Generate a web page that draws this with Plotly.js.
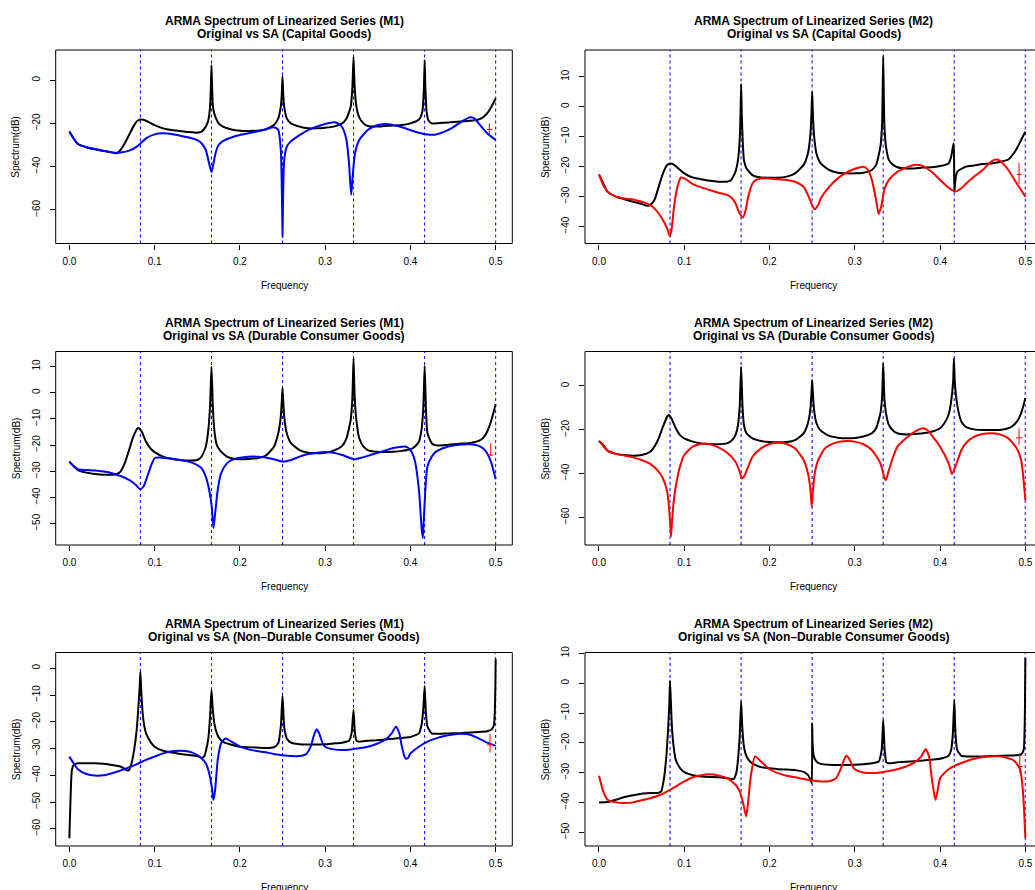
<!DOCTYPE html>
<html><head><meta charset="utf-8">
<script src="https://cdn.plot.ly/plotly-3.0.1.min.js"></script>
<style>html,body{margin:0;padding:0;background:#fff}#chart{width:1035px;height:890px}</style>
</head><body><div id="chart"></div>
<script>
// ---------------- DATA ----------------
const seasonalFreqs = [0.083333, 0.166667, 0.25, 0.333333, 0.416667, 0.5];
const xTickVals = [0, 0.1, 0.2, 0.3, 0.4, 0.5];

const p1YTicks = [-60, -40, -20, 0];
const p2YTicks = [-40, -30, -20, -10, 0, 10];
const p3YTicks = [-50, -40, -30, -20, -10, 0, 10];
const p4YTicks = [-60, -40, -20, 0];
const p5YTicks = [-60, -50, -40, -30, -20, -10, 0];
const p6YTicks = [-50, -40, -30, -20, -10, 0, 10];

const titleLine1 = ["ARMA Spectrum of Linearized Series (M1)", "ARMA Spectrum of Linearized Series (M2)",
  "ARMA Spectrum of Linearized Series (M1)", "ARMA Spectrum of Linearized Series (M2)",
  "ARMA Spectrum of Linearized Series (M1)", "ARMA Spectrum of Linearized Series (M2)"];
const titleLine2 = ["Original vs SA (Capital Goods)", "Original vs SA (Capital Goods)",
  "Original vs SA (Durable Consumer Goods)", "Original vs SA (Durable Consumer Goods)",
  "Original vs SA (Non\u2013Durable Consumer Goods)", "Original vs SA (Non\u2013Durable Consumer Goods)"];

// [frequency, dB]
const p1Orig = [[0,-23.8],[0.005,-27],[0.01,-29.5],[0.02,-31],[0.03,-32],[0.04,-32.8],[0.05,-33.4],[0.056,-33.8],[0.06,-32.3],[0.065,-29.2],[0.07,-25.4],[0.075,-21.5],[0.08,-18.8],[0.085,-18.2],[0.09,-18.8],[0.1,-20.8],[0.11,-22.3],[0.12,-23.1],[0.13,-23.5],[0.14,-24],[0.15,-24.3],[0.155,-23.8],[0.16,-21.5],[0.163,-18.5],[0.165,-12.3],[0.1659,-4],[0.1667,6.9],[0.1675,-4],[0.1684,-12.3],[0.17,-15.5],[0.172,-17.7],[0.175,-20],[0.18,-21.5],[0.19,-22.8],[0.2,-23.4],[0.21,-23.5],[0.22,-23.4],[0.23,-22.8],[0.24,-20.8],[0.245,-17.7],[0.248,-12.3],[0.2492,-6],[0.25,1.8],[0.2508,-6],[0.252,-12.3],[0.255,-17.7],[0.26,-20],[0.27,-21.5],[0.28,-22.3],[0.29,-22.3],[0.3,-22],[0.31,-21.5],[0.32,-20],[0.325,-17.7],[0.33,-12.3],[0.332,-3],[0.3333,10.8],[0.3346,-3],[0.3367,-12.3],[0.34,-17.2],[0.345,-20],[0.35,-21.2],[0.36,-21.5],[0.37,-21.2],[0.38,-21],[0.39,-20.8],[0.4,-20],[0.41,-18.2],[0.414,-14.6],[0.4158,-4],[0.4167,9.2],[0.4176,-4],[0.419,-14.6],[0.421,-18.5],[0.425,-20],[0.43,-20],[0.44,-19.7],[0.45,-19.4],[0.46,-19.1],[0.47,-18.8],[0.48,-18.2],[0.485,-17.2],[0.49,-15.4],[0.495,-12.3],[0.5,-8.5]];
const p1SA = [[0,-23.8],[0.005,-27],[0.01,-29.5],[0.02,-31],[0.03,-31.8],[0.04,-32.6],[0.05,-33.4],[0.06,-33.5],[0.07,-32.6],[0.08,-30.5],[0.09,-26.9],[0.1,-25.1],[0.11,-24.6],[0.12,-24.9],[0.13,-25.7],[0.14,-26.5],[0.15,-27.7],[0.155,-29.2],[0.16,-32.3],[0.163,-36.9],[0.1667,-42.5],[0.169,-38.5],[0.172,-33],[0.175,-30],[0.18,-28.2],[0.19,-26.5],[0.2,-25.4],[0.21,-24.6],[0.22,-23.8],[0.23,-22.8],[0.24,-21.8],[0.245,-23],[0.248,-32.3],[0.2495,-58],[0.25,-72.3],[0.2505,-58],[0.252,-36.9],[0.255,-30.8],[0.26,-28.2],[0.27,-25.4],[0.28,-23.1],[0.29,-21.5],[0.3,-20.3],[0.31,-19.5],[0.315,-20],[0.32,-21.8],[0.325,-27.7],[0.328,-38.5],[0.3305,-53],[0.332,-46],[0.335,-33.8],[0.34,-27.7],[0.35,-23.1],[0.36,-21],[0.37,-20.3],[0.38,-20.8],[0.39,-21.8],[0.4,-23.1],[0.41,-24.3],[0.42,-25.1],[0.43,-25.1],[0.44,-23.8],[0.45,-21.8],[0.46,-19.2],[0.47,-17.2],[0.475,-17.7],[0.48,-20],[0.49,-24.6],[0.5,-27.7]];

const p2Orig = [[0,-22.6],[0.005,-25.6],[0.01,-28.3],[0.02,-30],[0.03,-30.9],[0.04,-31.7],[0.05,-32.4],[0.056,-33],[0.06,-32.8],[0.065,-31.1],[0.07,-26.7],[0.075,-22.2],[0.08,-19.4],[0.085,-18.9],[0.09,-19.8],[0.1,-22.2],[0.11,-23.6],[0.12,-24.2],[0.13,-24.7],[0.14,-25],[0.15,-25],[0.155,-24.4],[0.16,-21.7],[0.163,-17.8],[0.165,-11.1],[0.1659,-3],[0.1667,7.6],[0.1675,-3],[0.1685,-11],[0.17,-17.8],[0.173,-20.6],[0.18,-22.8],[0.19,-23.6],[0.2,-23.7],[0.21,-23.7],[0.22,-23.3],[0.23,-22.2],[0.24,-19.4],[0.245,-15.6],[0.248,-8.9],[0.2492,-2],[0.25,5],[0.2508,-2],[0.252,-8.9],[0.255,-15.6],[0.26,-18.9],[0.27,-21.1],[0.28,-22],[0.29,-22.2],[0.3,-22.2],[0.31,-22],[0.32,-21.1],[0.325,-19.4],[0.33,-13.3],[0.332,-5.6],[0.3333,16.7],[0.3346,-5.6],[0.3366,-13.3],[0.34,-17.8],[0.345,-19.4],[0.35,-20.2],[0.36,-20.6],[0.37,-20.6],[0.38,-20.3],[0.39,-20.2],[0.4,-19.8],[0.41,-18.9],[0.413,-16.7],[0.4158,-12.2],[0.4164,-17.8],[0.4168,-28.3],[0.418,-24.4],[0.42,-21.7],[0.43,-20],[0.44,-19.6],[0.45,-19.1],[0.46,-18.9],[0.47,-18.4],[0.48,-17.6],[0.485,-16.1],[0.49,-13.9],[0.495,-11.1],[0.5,-8.3]];
const p2SA = [[0,-22.6],[0.005,-26.1],[0.01,-28.3],[0.02,-30],[0.03,-30.6],[0.04,-30.9],[0.05,-31.7],[0.06,-32.8],[0.065,-33.9],[0.07,-35.6],[0.075,-37.8],[0.08,-40.6],[0.083,-43.1],[0.085,-41.1],[0.088,-33.3],[0.092,-26.7],[0.096,-23.6],[0.1,-23.9],[0.11,-25.8],[0.12,-26.9],[0.13,-27.8],[0.14,-28.7],[0.15,-29.4],[0.155,-30.2],[0.16,-32.2],[0.165,-35.6],[0.169,-36.9],[0.172,-34.4],[0.175,-30],[0.18,-25.6],[0.185,-24.2],[0.19,-23.9],[0.2,-23.9],[0.21,-24.2],[0.22,-24.4],[0.23,-25],[0.24,-26.7],[0.245,-29.4],[0.25,-32.8],[0.253,-34.2],[0.257,-32.8],[0.26,-30.6],[0.27,-26.7],[0.28,-23.9],[0.29,-22],[0.3,-20.7],[0.31,-20],[0.315,-20.9],[0.32,-24.4],[0.325,-31.1],[0.328,-35.8],[0.331,-33.3],[0.335,-27.2],[0.34,-24.4],[0.35,-21.7],[0.36,-20.3],[0.37,-19.4],[0.38,-19.8],[0.39,-21.7],[0.4,-24.4],[0.41,-27],[0.418,-28.3],[0.425,-27.2],[0.43,-25.8],[0.44,-23.3],[0.45,-21.1],[0.46,-18.3],[0.465,-17.6],[0.47,-18],[0.48,-21.1],[0.49,-25.6],[0.5,-30]];

const p3Orig = [[0,-26.3],[0.005,-28],[0.01,-29.5],[0.02,-30.5],[0.03,-31],[0.04,-31.3],[0.05,-31.3],[0.055,-31.1],[0.06,-30.1],[0.065,-26.9],[0.07,-21.9],[0.075,-16.8],[0.08,-13.6],[0.082,-13.6],[0.085,-14.9],[0.09,-18.7],[0.095,-21.2],[0.1,-22.7],[0.11,-24.4],[0.12,-25.2],[0.13,-25.7],[0.14,-25.9],[0.15,-25.7],[0.155,-24.4],[0.16,-20.6],[0.163,-14.2],[0.165,-5.3],[0.1667,9.9],[0.1683,-5.3],[0.17,-14.2],[0.173,-20],[0.178,-22.5],[0.185,-24.4],[0.19,-25],[0.2,-25.4],[0.21,-25.3],[0.22,-25],[0.23,-24.1],[0.24,-20.6],[0.245,-15.5],[0.248,-9.1],[0.2492,-3],[0.25,2],[0.2508,-3],[0.252,-9.1],[0.255,-15.5],[0.26,-19.3],[0.27,-21.9],[0.28,-22.9],[0.29,-23.1],[0.3,-22.9],[0.31,-22.1],[0.32,-20.3],[0.325,-17.4],[0.33,-10.4],[0.332,-1.5],[0.3333,13.1],[0.3346,-1.5],[0.3366,-10.4],[0.34,-17.4],[0.345,-20.6],[0.35,-21.9],[0.36,-22.5],[0.37,-22.6],[0.38,-22.5],[0.39,-22.2],[0.4,-21.6],[0.405,-20.6],[0.41,-18.7],[0.413,-14.2],[0.415,-6.6],[0.4167,10.2],[0.4183,-6.6],[0.42,-15.5],[0.425,-19.3],[0.43,-20.1],[0.44,-20],[0.45,-19.7],[0.46,-19.4],[0.47,-19.2],[0.48,-18.4],[0.485,-17.4],[0.49,-14.9],[0.495,-10.4],[0.5,-4.4]];
const p3SA = [[0,-26.3],[0.005,-28],[0.01,-29.2],[0.02,-29.5],[0.03,-29.7],[0.04,-30.1],[0.05,-30.7],[0.06,-31.8],[0.07,-33.3],[0.078,-35.2],[0.083,-36.8],[0.087,-35.8],[0.092,-31.4],[0.097,-26.9],[0.1,-25],[0.105,-24.7],[0.11,-24.8],[0.12,-25.2],[0.13,-25.7],[0.14,-26.3],[0.15,-27.6],[0.155,-28.8],[0.16,-32],[0.164,-37.1],[0.167,-43.5],[0.169,-51.7],[0.171,-46],[0.174,-37.1],[0.178,-30.7],[0.185,-26.9],[0.19,-25.7],[0.2,-24.8],[0.21,-24.4],[0.22,-24.4],[0.23,-24.7],[0.24,-25.4],[0.25,-26.3],[0.26,-25.7],[0.27,-24.4],[0.28,-23.4],[0.29,-22.9],[0.3,-22.6],[0.31,-22.9],[0.32,-23.8],[0.33,-25],[0.335,-25.4],[0.34,-25],[0.35,-24.1],[0.36,-23.1],[0.37,-22.1],[0.38,-21.1],[0.39,-20.6],[0.395,-20.6],[0.4,-21.9],[0.405,-25.7],[0.41,-37.1],[0.413,-51.1],[0.4145,-55.5],[0.4155,-49.8],[0.418,-34.6],[0.42,-28.2],[0.425,-24.4],[0.43,-22.5],[0.44,-21],[0.45,-20.2],[0.46,-19.8],[0.47,-19.7],[0.48,-20.3],[0.485,-21.2],[0.49,-23.1],[0.495,-26.9],[0.5,-33]];

const p4Orig = [[0,-25.1],[0.005,-26.9],[0.01,-29.5],[0.02,-31],[0.03,-31.5],[0.04,-31.8],[0.05,-31.5],[0.06,-30],[0.065,-27.7],[0.07,-23.9],[0.075,-18.6],[0.08,-14],[0.082,-13.2],[0.085,-14.8],[0.09,-19.3],[0.095,-22.4],[0.1,-23.9],[0.11,-25.4],[0.12,-26.2],[0.13,-26.5],[0.14,-26.6],[0.15,-26.2],[0.155,-25.1],[0.16,-22.4],[0.163,-17.8],[0.165,-9.4],[0.1667,8.8],[0.1683,-9.4],[0.17,-17.8],[0.173,-21.6],[0.18,-23.9],[0.19,-25.1],[0.2,-25.6],[0.21,-25.7],[0.22,-25.6],[0.23,-24.7],[0.24,-21.6],[0.245,-17],[0.248,-10.2],[0.2492,-3],[0.25,2.7],[0.2508,-3],[0.252,-10.2],[0.255,-17],[0.26,-20.4],[0.27,-22.8],[0.28,-23.6],[0.29,-23.9],[0.3,-23.7],[0.31,-23.1],[0.32,-21.6],[0.325,-19.3],[0.33,-12.5],[0.332,-4.9],[0.3333,10.4],[0.3346,-4.9],[0.3366,-12.5],[0.34,-17.8],[0.345,-20.4],[0.35,-21.6],[0.36,-22.1],[0.37,-21.9],[0.38,-21.6],[0.39,-20.9],[0.4,-19.3],[0.405,-17],[0.41,-13],[0.413,-7],[0.4153,2],[0.4162,12.6],[0.4172,2],[0.4195,-7],[0.422,-12.5],[0.425,-16.3],[0.43,-18.6],[0.44,-19.8],[0.45,-20.1],[0.46,-20.1],[0.47,-20.1],[0.48,-19.3],[0.485,-18.3],[0.49,-16.3],[0.495,-12.5],[0.5,-5.6]];
const p4SA = [[0,-25.1],[0.005,-27.4],[0.01,-29.5],[0.02,-31],[0.03,-31.7],[0.04,-32.6],[0.05,-33.8],[0.06,-35.6],[0.07,-39.1],[0.075,-42.2],[0.08,-48.2],[0.082,-55.1],[0.0835,-62.7],[0.0845,-68.8],[0.0855,-62.7],[0.087,-55.1],[0.09,-46],[0.095,-36.8],[0.1,-31.5],[0.11,-27.7],[0.12,-26.5],[0.13,-26.6],[0.14,-28],[0.15,-30.4],[0.16,-34.6],[0.165,-39.1],[0.1675,-42.2],[0.17,-41.4],[0.175,-36.8],[0.18,-32.3],[0.19,-28.5],[0.2,-26.5],[0.21,-25.9],[0.22,-26.5],[0.23,-28.5],[0.24,-33.8],[0.245,-39.9],[0.248,-47.5],[0.2495,-55.1],[0.251,-47.5],[0.253,-39.9],[0.257,-33.8],[0.265,-28.5],[0.275,-26.2],[0.29,-25.1],[0.3,-25.4],[0.31,-26.6],[0.32,-29.2],[0.33,-35.3],[0.335,-42.2],[0.3365,-42.9],[0.34,-38.4],[0.345,-32.3],[0.35,-27.7],[0.36,-23.9],[0.37,-20.9],[0.38,-19.3],[0.385,-20.1],[0.39,-22.4],[0.4,-27.7],[0.41,-35.3],[0.414,-40.2],[0.418,-36.8],[0.425,-29.2],[0.43,-26.2],[0.44,-23.1],[0.45,-21.9],[0.46,-21.6],[0.47,-22.1],[0.48,-23.9],[0.49,-28.5],[0.495,-33.8],[0.5,-52.1]];

const p5Orig = [[0,-63.5],[0.001,-52.9],[0.002,-43],[0.003,-38],[0.005,-36.1],[0.01,-35.5],[0.02,-35.5],[0.03,-35.5],[0.04,-35.7],[0.05,-36.1],[0.06,-36.7],[0.065,-37.6],[0.068,-38.2],[0.07,-38],[0.073,-35.5],[0.076,-30.5],[0.079,-23],[0.081,-14.3],[0.0825,-6.8],[0.0833,-1.2],[0.0845,-9.3],[0.086,-16.8],[0.088,-21.8],[0.09,-24.3],[0.095,-27.4],[0.1,-29.3],[0.11,-30.8],[0.12,-31.5],[0.13,-32],[0.14,-32.4],[0.15,-32.8],[0.155,-33.4],[0.158,-33],[0.16,-31.1],[0.163,-26.2],[0.165,-18.1],[0.1667,-8.1],[0.168,-14.3],[0.17,-20.5],[0.173,-24.3],[0.176,-26.2],[0.18,-27.4],[0.19,-28.6],[0.2,-29.3],[0.21,-29.5],[0.22,-29.6],[0.23,-29.8],[0.24,-29.5],[0.245,-28],[0.248,-21.8],[0.25,-10.3],[0.252,-21.8],[0.255,-26.2],[0.26,-27.8],[0.27,-28.4],[0.28,-28.5],[0.29,-28.5],[0.3,-28.4],[0.31,-28.1],[0.32,-27.8],[0.328,-27.1],[0.331,-24.3],[0.3333,-15.6],[0.335,-24.3],[0.337,-27.1],[0.34,-27.4],[0.35,-27.1],[0.36,-26.9],[0.37,-26.6],[0.38,-26.3],[0.39,-26],[0.4,-25.7],[0.41,-24.3],[0.413,-21.2],[0.415,-15.6],[0.4167,-6.6],[0.418,-15.6],[0.42,-21.8],[0.425,-24.3],[0.43,-24.5],[0.44,-24.4],[0.45,-24.3],[0.46,-24.2],[0.47,-24],[0.48,-23.8],[0.49,-23.5],[0.495,-23],[0.498,-21.2],[0.4995,-9.3],[0.5,3.4]];
const p5SA = [[0,-33],[0.005,-35.5],[0.01,-37.7],[0.02,-39.5],[0.03,-40.1],[0.04,-40],[0.05,-39.2],[0.06,-38.2],[0.07,-37],[0.08,-35.7],[0.09,-34.2],[0.1,-33],[0.11,-31.8],[0.12,-31],[0.13,-30.8],[0.14,-31.1],[0.15,-32.4],[0.155,-33.6],[0.16,-35.5],[0.164,-39.2],[0.167,-44.2],[0.169,-49.2],[0.171,-45.4],[0.174,-34.2],[0.178,-28],[0.183,-26.2],[0.19,-27.4],[0.2,-29.3],[0.21,-30.3],[0.22,-30.9],[0.23,-31.4],[0.24,-32],[0.25,-32.5],[0.26,-32.8],[0.27,-32.8],[0.278,-32],[0.283,-29.3],[0.287,-24.9],[0.29,-22.8],[0.293,-24.3],[0.297,-28],[0.3,-29.3],[0.31,-30.3],[0.32,-30.5],[0.33,-30.3],[0.34,-29.9],[0.35,-29.3],[0.36,-28.3],[0.37,-26.8],[0.378,-24.3],[0.383,-21.8],[0.387,-24.3],[0.39,-29.3],[0.394,-33.6],[0.397,-33.6],[0.4,-31.8],[0.41,-29.3],[0.42,-27.4],[0.43,-26.2],[0.44,-25.3],[0.45,-24.7],[0.46,-24.5],[0.47,-24.8],[0.48,-26.2],[0.49,-27.8],[0.5,-29]];

const p6Orig = [[0,-39.9],[0.01,-39.8],[0.02,-39],[0.03,-38.1],[0.04,-37.5],[0.05,-37],[0.06,-36.8],[0.07,-36.7],[0.073,-36.2],[0.076,-32.3],[0.079,-24.5],[0.081,-15.6],[0.0825,-6.7],[0.0833,0.9],[0.0845,-7.8],[0.086,-16.7],[0.088,-22.3],[0.09,-25.6],[0.095,-28.4],[0.1,-29.8],[0.11,-30.8],[0.12,-31.2],[0.13,-31.4],[0.14,-31.5],[0.15,-31.8],[0.158,-32.1],[0.161,-30.1],[0.163,-25.6],[0.165,-17.8],[0.1667,-6.1],[0.168,-14.5],[0.17,-21.2],[0.173,-24.5],[0.178,-26.5],[0.185,-27.6],[0.19,-28.1],[0.2,-28.5],[0.21,-28.8],[0.22,-28.9],[0.23,-29.1],[0.24,-29.7],[0.245,-30.7],[0.248,-32.3],[0.2495,-33.4],[0.25,-13.4],[0.2505,-20.1],[0.252,-24.5],[0.255,-26.2],[0.26,-27],[0.27,-27.3],[0.28,-27.4],[0.29,-27.4],[0.3,-27.3],[0.31,-27.1],[0.32,-26.8],[0.328,-26.2],[0.3315,-22.3],[0.3333,-12.3],[0.335,-22.3],[0.337,-26.5],[0.34,-26.8],[0.35,-26.5],[0.36,-26.3],[0.37,-26.1],[0.38,-25.9],[0.39,-25.6],[0.4,-25.3],[0.41,-24.3],[0.413,-22.3],[0.415,-16.7],[0.4167,-5.6],[0.418,-16.7],[0.42,-22.3],[0.425,-24.3],[0.43,-24.5],[0.44,-24.5],[0.45,-24.5],[0.46,-24.4],[0.47,-24.3],[0.48,-24.2],[0.49,-24.1],[0.495,-23.9],[0.498,-22.3],[0.4995,-8.9],[0.5,8.4]];
const p6SA = [[0,-31],[0.005,-36.2],[0.01,-39],[0.02,-39.9],[0.03,-40.1],[0.04,-39.9],[0.05,-39.2],[0.06,-38.5],[0.07,-37.6],[0.08,-36.2],[0.09,-34.6],[0.1,-32.9],[0.11,-31.5],[0.12,-30.8],[0.13,-30.5],[0.14,-30.9],[0.15,-31.8],[0.16,-34],[0.165,-36.2],[0.169,-40.1],[0.1725,-44.6],[0.175,-39.6],[0.178,-31.2],[0.183,-24.5],[0.19,-26.2],[0.2,-28.8],[0.21,-30.1],[0.22,-31],[0.23,-31.5],[0.24,-32.1],[0.25,-32.6],[0.26,-32.9],[0.27,-32.8],[0.278,-31.8],[0.283,-29],[0.287,-25.9],[0.29,-24.3],[0.293,-25.1],[0.297,-27.6],[0.3,-28.8],[0.31,-29.9],[0.32,-30.1],[0.33,-29.9],[0.34,-29.4],[0.35,-28.8],[0.36,-27.9],[0.37,-26.5],[0.378,-24.5],[0.383,-22.1],[0.387,-24.5],[0.39,-31.2],[0.3945,-39],[0.397,-36.2],[0.4,-31.8],[0.41,-28.8],[0.42,-27.3],[0.43,-26.2],[0.44,-25.3],[0.45,-24.7],[0.46,-24.5],[0.47,-24.5],[0.48,-25.1],[0.485,-25.6],[0.49,-27],[0.494,-29],[0.497,-35.7],[0.4985,-42.4],[0.5,-51.8]];

// confidence cross: [x, xLeft, xRight, yCenter, yLow, yHigh]
const p1Cross = [0.4925, 0.4898, 0.4960, -22.8, -25.1, -20.0];
const p2Cross = [0.4926, 0.4900, 0.4957, -22.6, -25.8, -18.7];
const p3Cross = [0.4942, 0.4905, 0.4975, -23.8, -24.1, -19.3];
const p4Cross = [0.4926, 0.4890, 0.4965, -23.7, -26.9, -19.3];
const p5Cross = [0.4934, 0.4900, 0.4970, -28.6, -31.5, -24.5];
const p6Cross = [0.4935, 0.4910, 0.4965, -27.9, -30.0, -23.4];

// ---------------- LAYOUT CONFIG ----------------
const W = 1035, H = 890;
const FONT = '"Liberation Sans", Arial, Helvetica, sans-serif';
const cols = [
  {left: 55.7, right: 512.3, boxRight: 512.3, xr: [-0.016, 0.5195], vcol: '#0000FF', vw: 1},
  {left: 585, right: 1035, boxRight: 1042, xr: [-0.0164, 0.5113], vcol: 'rgb(80,80,255)', vw: 1.5}
];
const rows = [{top: 50, bottom: 243.5}, {top: 351.5, bottom: 545}, {top: 652.5, bottom: 846}];

const panels = [
  {orig: p1Orig, sa: p1SA, saCol: '#0000FF', cross: p1Cross, yt: p1YTicks, yr: [-75.5, 13.9], c: 0, r: 0},
  {orig: p2Orig, sa: p2SA, saCol: '#FF0000', cross: p2Cross, yt: p2YTicks, yr: [-45.6, 18.9], c: 1, r: 0},
  {orig: p3Orig, sa: p3SA, saCol: '#0000FF', cross: p3Cross, yt: p3YTicks, yr: [-58.1, 15.7], c: 0, r: 1},
  {orig: p4Orig, sa: p4SA, saCol: '#FF0000', cross: p4Cross, yt: p4YTicks, yr: [-72.6, 15.75], c: 1, r: 1},
  {orig: p5Orig, sa: p5SA, saCol: '#0000FF', cross: p5Cross, yt: p5YTicks, yr: [-66.4, 5.9], c: 0, r: 2},
  {orig: p6Orig, sa: p6SA, saCol: '#FF0000', cross: p6Cross, yt: p6YTicks, yr: [-54.5, 10.27], c: 1, r: 2}
];

const px = x => x / W;
const py = y => 1 - y / H;

const traces = [];
const layout = {
  width: W, height: H, margin: {l: 0, r: 0, t: 0, b: 0},
  paper_bgcolor: '#fff', plot_bgcolor: '#fff', showlegend: false,
  font: {family: FONT, size: 10, color: '#000'},
  shapes: [], annotations: []
};

panels.forEach((p, i) => {
  const n = i + 1;
  const xa = 'x' + (n === 1 ? '' : n), ya = 'y' + (n === 1 ? '' : n);
  const xk = 'xaxis' + (n === 1 ? '' : n), yk = 'yaxis' + (n === 1 ? '' : n);
  const col = cols[p.c], row = rows[p.r];

  layout[xk] = {
    domain: [px(col.left), px(col.right)], range: col.xr, anchor: ya,
    showgrid: false, zeroline: false, showline: false,
    ticks: 'outside', ticklen: 5, tickwidth: 1, tickcolor: '#000',
    tickvals: xTickVals, tickformat: '.1f', tickfont: {family: FONT, size: 10, color: '#000'},
    ticklabelstandoff: 3, fixedrange: true
  };
  layout[yk] = {
    domain: [py(row.bottom), py(row.top)], range: p.yr, anchor: xa,
    showgrid: false, zeroline: false, showline: false,
    ticks: 'outside', ticklen: 5, tickwidth: 1, tickcolor: '#000',
    tickvals: p.yt, tickangle: -90, tickfont: {family: FONT, size: 10, color: '#000'},
    ticklabelstandoff: 6, fixedrange: true
  };

  traces.push({x: p.orig.map(d => d[0]), y: p.orig.map(d => d[1]), xaxis: xa, yaxis: ya,
    type: 'scatter', mode: 'lines', line: {color: '#000', width: 2, shape: 'spline', smoothing: 0.5}, hoverinfo: 'skip'});
  traces.push({x: p.sa.map(d => d[0]), y: p.sa.map(d => d[1]), xaxis: xa, yaxis: ya,
    type: 'scatter', mode: 'lines', line: {color: p.saCol, width: 2, shape: 'spline', smoothing: 0.6}, hoverinfo: 'skip'});
  const c = p.cross;
  traces.push({x: [c[0], c[0], null, c[1], c[2]], y: [c[4], c[5], null, c[3], c[3]], xaxis: xa, yaxis: ya,
    type: 'scatter', mode: 'lines', line: {color: '#FF0000', width: 1}, hoverinfo: 'skip'});

  seasonalFreqs.forEach(f => {
    layout.shapes.push({type: 'line', xref: xa, yref: ya + ' domain', x0: f, x1: f, y0: 0, y1: 1,
      line: {color: col.vcol, width: col.vw, dash: '3px,3px'}, layer: 'below'});
  });
  layout.shapes.push({type: 'rect', xref: 'paper', yref: 'paper',
    x0: px(col.left), x1: px(col.boxRight), y0: py(row.bottom), y1: py(row.top),
    line: {color: '#000', width: 1}, layer: 'above'});

  const cx = px((col.left + col.boxRight) / 2);
  layout.annotations.push({xref: 'paper', yref: 'paper', x: cx, y: py(row.top - 29), xanchor: 'center', yanchor: 'middle',
    text: '<b>' + titleLine1[i] + '</b>', showarrow: false, font: {family: FONT, size: 12, color: '#000'}});
  layout.annotations.push({xref: 'paper', yref: 'paper', x: cx, y: py(row.top - 16), xanchor: 'center', yanchor: 'middle',
    text: '<b>' + titleLine2[i] + '</b>', showarrow: false, font: {family: FONT, size: 12, color: '#000'}});
  layout.annotations.push({xref: 'paper', yref: 'paper', x: cx, y: py(row.bottom + 41.5), xanchor: 'center', yanchor: 'middle',
    text: 'Frequency', showarrow: false, font: {family: FONT, size: 10, color: '#000'}});
  layout.annotations.push({xref: 'paper', yref: 'paper', x: px(col.left - 39.7), y: py((row.top + row.bottom) / 2),
    xanchor: 'center', yanchor: 'middle', textangle: -90,
    text: 'Spectrum(dB)', showarrow: false, font: {family: FONT, size: 10, color: '#000'}});
});

Plotly.newPlot('chart', traces, layout, {displayModeBar: false, staticPlot: true});
</script></body></html>
